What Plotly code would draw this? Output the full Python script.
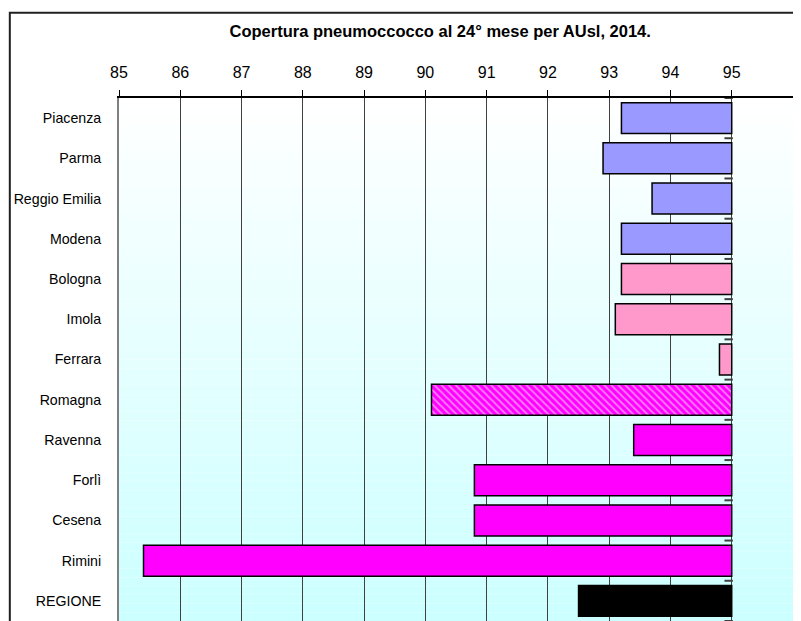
import plotly.graph_objects as go

areas = ["Piacenza", "Parma", "Reggio Emilia", "Modena", "Bologna", "Imola",
         "Ferrara", "Romagna", "Ravenna", "Forlì", "Cesena", "Rimini", "REGIONE"]
coverage = [93.2, 92.9, 93.7, 93.2, 93.2, 93.1, 94.8, 90.1, 93.4, 90.8, 90.8, 85.4, 92.5]
bar_colors = ["#9999ff"] * 4 + ["#ff99cc"] * 3 + ["#ff00ff"] * 5 + ["#000000"]
reference = 95
x_ticks = list(range(85, 97))

pos = list(range(len(areas)))
hatch = ["\\" if a == "Romagna" else "" for a in areas]

fig = go.Figure()

fig.add_trace(go.Bar(
    y=pos,
    x=[v - reference for v in coverage],
    base=[reference] * len(areas),
    orientation="h",
    width=0.77,
    marker=dict(
        color=bar_colors,
        line=dict(color="#000000", width=1.5),
        pattern=dict(shape=hatch, fgcolor="#ffffff", size=5, solidity=0.35),
    ),
    showlegend=False,
    hoverinfo="skip",
))

# small category ticks where the y axis crosses at 95
fig.add_trace(go.Scatter(
    x=[reference - 0.05] * (len(areas) + 1),
    y=[p - 0.5 for p in pos] + [len(areas) - 0.5],
    mode="markers",
    marker=dict(symbol="line-ew", size=6, line=dict(color="#404040", width=2)),
    showlegend=False,
    hoverinfo="skip",
))

# vertical gradient background of the plot area
shapes = []
n = 60
for i in range(n):
    t = i / (n - 1)
    g = int(255 - (255 - 204) * t)
    shapes.append(dict(
        type="rect", xref="x domain", yref="y domain",
        x0=0, x1=1, y0=1 - i / n, y1=1 - (i + 1) / n,
        fillcolor=f"rgb({g},255,255)", line=dict(width=0), layer="below",
    ))

# outer frame
shapes.append(dict(
    type="rect", xref="paper", yref="paper",
    x0=-0.162, x1=1.03, y0=-0.03, y1=1.163,
    line=dict(color="#202020", width=2), fillcolor="rgba(0,0,0,0)",
))

fig.update_layout(
    width=793, height=613,
    margin=dict(l=111, r=8, t=90, b=0),
    paper_bgcolor="#ffffff",
    plot_bgcolor="rgba(0,0,0,0)",
    font=dict(family="Liberation Sans, Arial, sans-serif", color="#000000"),
    title=dict(
        text="<b>Copertura pneumoccocco al 24° mese per AUsl, 2014.</b>",
        x=0.545, xanchor="center", y=0.962, yanchor="middle",
        font=dict(size=16.5),
    ),
    shapes=shapes,
    xaxis=dict(
        range=[85, 96], side="top",
        tickvals=x_ticks, ticktext=[str(t) for t in x_ticks],
        tickfont=dict(size=16),
        showgrid=True, gridcolor="#404040", gridwidth=1,
        showline=True, linecolor="#000000", linewidth=1.5,
        ticks="outside", ticklen=6, tickcolor="#000000",
        ticklabelstandoff=6, zeroline=False, fixedrange=True,
    ),
    yaxis=dict(
        range=[len(areas) - 0.5, -0.5],
        tickvals=pos, ticktext=areas,
        tickfont=dict(size=14.2),
        showgrid=False, zeroline=False,
        showline=True, linecolor="#808080", linewidth=2,
        ticks="", ticklabelstandoff=13, fixedrange=True,
    ),
)

fig.write_html("out.html")
